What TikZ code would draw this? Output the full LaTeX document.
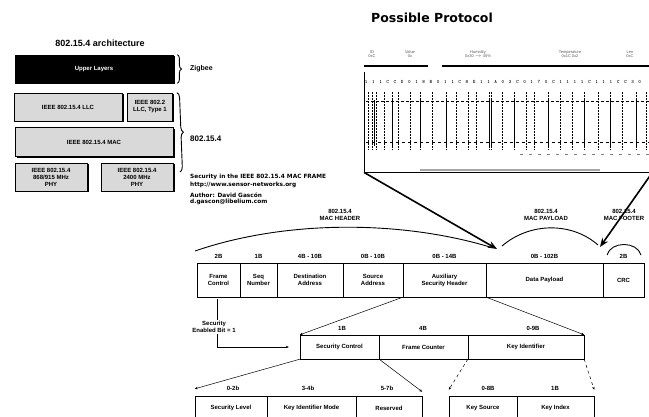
\documentclass[tikz,border=0pt]{standalone}
\usepackage{fontspec}
\setmainfont{Liberation Sans}
\newfontfamily\titlefont{DejaVu Sans}
\usetikzlibrary{positioning,arrows.meta,decorations.pathreplacing,shadows}

\begin{document}
\begin{tikzpicture}[x=1pt, y=-1pt,
  cell/.style={draw, inner sep=0pt, minimum height=34pt, align=center,
               font=\fontsize{6}{7}\selectfont\bfseries},
  subcell/.style={cell, minimum height=24pt},
  size/.style={font=\fontsize{6}{7}\selectfont\bfseries, inner sep=1pt},
  archbox/.style={draw, line width=0.8pt, fill=gray!30, inner sep=0pt, align=center,
                  font=\fontsize{6}{7}\selectfont\bfseries,
                  drop shadow={shadow xshift=1.5pt, shadow yshift=-1.5pt, fill=black, opacity=1}},
  note/.style={font=\titlefont\fontsize{5.8}{7}\selectfont\bfseries, anchor=west, inner sep=0pt},
  big/.style={-{Stealth[length=9pt, width=7pt]}, line width=1.6pt},
  link/.style={-{Stealth[length=3pt, width=2.5pt]}, line width=0.5pt},
  hexch/.style={font=\fontsize{5}{6}\selectfont\ttfamily\bfseries, inner sep=0pt},
  shotlbl/.style={font=\fontsize{4}{4.5}\selectfont, text=gray!70!black, align=center, inner sep=0pt},
]
\useasboundingbox (0,0) rectangle (649,417);

% ---- 802.15.4 architecture ----
\node[font=\fontsize{9}{10}\selectfont\bfseries] (archtitle) at (100,43) {802.15.4 architecture};

\node[archbox, fill=black, text=white, minimum width=158pt, minimum height=28pt]
  (upper) at (94,69) {Upper Layers};
\node[archbox, minimum width=108pt, minimum height=28pt] (llc) at (68,107)
  {IEEE 802.15.4 LLC};
\node[archbox, minimum width=45pt, minimum height=28pt] (llc2) at (150,107)
  {IEEE 802.2\\LLC, Type 1};
\node[archbox, minimum width=158pt, minimum height=29pt] (mac) at (94,142)
  {IEEE 802.15.4 MAC};
\node[archbox, minimum width=72pt, minimum height=28pt] (phyA) at (51,177)
  {IEEE 802.15.4\\868/915 MHz\\PHY};
\node[archbox, minimum width=72pt, minimum height=28pt] (phyB) at (137,177)
  {IEEE 802.15.4\\2400 MHz\\PHY};

\draw[line width=0.9pt, decorate, decoration={brace, amplitude=4pt}]
  (upper.north east) ++(4,0) coordinate (zbtop) -- (upper.south east -| zbtop) coordinate (zbbot);
\draw[line width=0.9pt, decorate, decoration={brace, amplitude=5pt}]
  (llc2.north east) ++(4,0) coordinate (sttop) -- (180,172) coordinate (stbot);

\node[note, font=\fontsize{7}{8}\selectfont\bfseries] (zigbee) at (190,69) {Zigbee};
\node[note, font=\fontsize{8}{9}\selectfont\bfseries] (stdlbl) at (190,139) {802.15.4};

\node[note] (sectitle) at (190,177) {Security in the IEEE 802.15.4 MAC FRAME};
\node[note, below=1.5pt of sectitle.south west, anchor=north west]
  (securl) {http://www.sensor-networks.org};
\node[note, below=5pt of securl.south west, anchor=north west]
  (author) {Author: David Gascón};
\node[note, below=1.5pt of author.south west, anchor=north west]
  (email) {d.gascon@libelium.com};

% ---- Possible Protocol ----
\node[font=\titlefont\fontsize{12.5}{14}\selectfont\bfseries] (prottitle) at (432,18) {Possible Protocol};

\node[shotlbl] (colA) at (372,54) {ID\\0xC};
\node[shotlbl] (colB) at (410,54) {Value\\0x};
\node[shotlbl] (colC) at (478,54) {Humidity\\0x30 $\rightarrow$ 45\%};
\node[shotlbl] (colD) at (570,54) {Temperature\\0x1C 0x2};
\node[shotlbl] (colE) at (630,54) {Len\\0xC};
\draw[line width=2.6pt] (364,66) -- (412,66);
\draw[line width=1.4pt] (412,66) -- (428,66);
\draw[line width=1.4pt] (442,66) -- (540,66);
\draw[line width=2.6pt] (540,66) -- (649,66);

\node[anchor=north west, minimum width=288pt, minimum height=100pt, inner sep=0pt]
  (shot) at (364,72) {};
\draw[line width=0.8pt] (shot.north west) -- (shot.south west) -- (shot.south east);
\foreach \c [count=\i] in {1,1,1,C,C,D,0,1,8,B,0,1,1,C,8,E,1,1,A,0,3,C,0,1,7,0,C,1,1,1,1,C,1,1,1,C,C,3,0}
  \node[hexch] (hx\i) at (359+7.2*\i,82) {\c};
\foreach \x in {368,372,376,384,392,398,410,420,432,446,456,468,476,489,491,502,514,526,534,548,560,572,584,598,610,622,636,646}
  \draw[densely dotted, line width=0.5pt] (\x,92) -- (\x,150);
\foreach \x in {374,392,420,446,489,491,514,548,584,610,636}
  \draw[line width=0.6pt] (\x,100) -- (\x,146);
\draw[densely dashed, line width=0.6pt] (366,101) -- (649,101);
\draw[dashed, line width=0.9pt] (366,142) -- (649,142);
\draw[loosely dashed, line width=0.5pt, gray] (520,154) -- (649,154);
\draw[gray!70, line width=1.2pt] (420,170) -- (600,170);

% ---- MAC frame ----
\coordinate (hdrend) at (497,249);
\coordinate (payend) at (600,247);
\draw[big] (shot.south west) -- (hdrend);
\draw[big] (shot.south east) -- (payend);

\node[size, align=center] (hdrlbl) at (340,215) {802.15.4\\MAC HEADER};
\node[size, align=center] (paylbl) at (546,215) {802.15.4\\MAC PAYLOAD};
\node[size, align=center] (ftrlbl) at (624,215) {802.15.4\\MAC FOOTER};
\draw[line width=0.9pt] (195,251) .. controls (285,220) and (400,220) .. (490,247);
\draw[line width=0.9pt] (502,246) .. controls (530,222) and (572,222) .. (598,245);
\draw[line width=0.9pt] (607,255) .. controls (611,241) and (637,241) .. (641,255);

\node[cell, minimum width=43pt] (fc) at (218.5,280) {Frame\\Control};
\node[cell, minimum width=37pt] (seq) at (258.5,280) {Seq\\Number};
\node[cell, minimum width=66pt] (dst) at (310,280) {Destination\\Address};
\node[cell, minimum width=60pt] (src) at (373,280) {Source\\Address};
\node[cell, minimum width=83pt] (aux) at (444.5,280) {Auxiliary\\Security Header};
\node[cell, minimum width=117pt] (pay) at (544.5,280) {Data Payload};
\node[cell, minimum width=41pt] (crc) at (623.5,280) {CRC};

\node[size] (szfc) at (218.5,256) {2B};
\node[size] (szseq) at (258.5,256) {1B};
\node[size] (szdst) at (310,256) {4B - 10B};
\node[size] (szsrc) at (373,256) {0B - 10B};
\node[size] (szaux) at (444.5,256) {0B - 14B};
\node[size] (szpay) at (544.5,256) {0B - 102B};
\node[size] (szcrc) at (623.5,256) {2B};

% ---- Security enabled ----
\node[size, align=center] (secflag) at (214,327) {Security\\Enabled Bit = 1};
\draw[line width=0.6pt] (fc.south) ++(-1,2) -- (secflag.north -| 217.5,0);

% ---- Auxiliary security header ----
\node[subcell, minimum width=79pt] (ctl) at (339.5,347) {Security Control};
\node[subcell, minimum width=89pt] (cnt) at (423.5,347) {Frame Counter};
\node[subcell, minimum width=116pt] (kid) at (526,347) {Key Identifier};

\node[size] (szctl) at (342,328) {1B};
\node[size] (szcnt) at (423,328) {4B};
\node[size] (szkid) at (533,328) {0-9B};

\draw[link] (secflag.south -| 217.5,0) |- ([xshift=-11pt]ctl.west);
\draw[link] (aux.south west) -- (ctl.north west);
\draw[link] (aux.south east) -- (kid.north east);

% ---- Security control / key identifier ----
\node[subcell, minimum width=72pt] (lvl) at (231,408) {Security Level};
\node[subcell, minimum width=89pt] (kmode) at (311.5,408) {Key Identifier Mode};
\node[subcell, minimum width=66pt] (rsv) at (389,408) {Reserved};
\node[subcell, minimum width=68pt] (ksrc) at (483,408) {Key Source};
\node[subcell, minimum width=77pt] (kidx) at (555.5,408) {Key Index};

\node[size] (szlvl) at (233,388) {0-2b};
\node[size] (szkmode) at (308,388) {3-4b};
\node[size] (szrsv) at (387,388) {5-7b};
\node[size] (szksrc) at (488,388) {0-8B};
\node[size] (szkidx) at (555,388) {1B};

\draw[link] (ctl.south west) -- ([yshift=7pt]lvl.north west);
\draw[link] (ctl.south east) -- ([yshift=4pt]rsv.north east);
\draw[link, dashed] (kid.south west) -- ([yshift=6pt]ksrc.north west);
\draw[link, dashed] (kid.south east) -- ([yshift=6pt]kidx.north east);

\end{tikzpicture}
\end{document}
